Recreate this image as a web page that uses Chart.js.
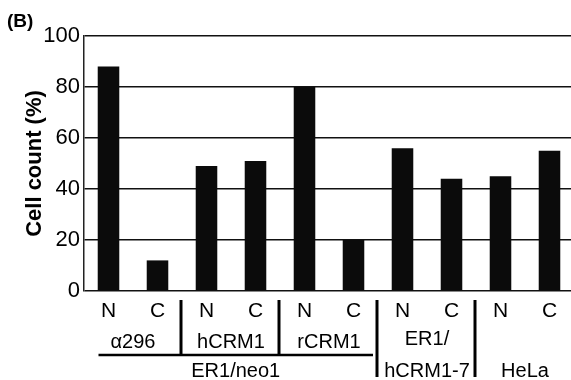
<!DOCTYPE html>
<html>
<head>
<meta charset="utf-8">
<script src="https://cdn.jsdelivr.net/npm/chart.js@4/dist/chart.umd.min.js"></script>
<style>
  html, body { margin: 0; padding: 0; background: #fff; overflow: hidden; }
  #wrap { width: 571px; height: 380px; overflow: hidden; }
</style>
</head>
<body>
<div id="wrap"><canvas id="chart" width="576" height="380"></canvas></div>
<script>
// 数据
const labels = ['N', 'C', 'N', 'C', 'N', 'C', 'N', 'C', 'N', 'C'];
const values = [88, 12, 49, 51, 80, 20, 56, 44, 45, 55];
const groupNames = [['\u03b1296'], ['hCRM1'], ['rCRM1'], ['ER1/', 'hCRM1-7'], ['HeLa']];
const parentName = 'ER1/neo1';
const parentGroups = 3; // 前三组属于 ER1/neo1
const yTicks = [0, 20, 40, 60, 80, 100];

const FONT = 'Arial, "Liberation Sans", sans-serif';

// 分组标签、分隔线
const groupPlugin = {
    id: 'groups',
    afterDraw(chart) {
        const ctx = chart.ctx;
        const x = chart.scales.x;
        ctx.save();
        ctx.fillStyle = '#000';
        ctx.strokeStyle = '#000';
        ctx.font = '20px ' + FONT;
        ctx.textAlign = 'center';
        ctx.textBaseline = 'middle';

        groupNames.forEach((lines, g) => {
            const cx = (x.getPixelForValue(g * 2) + x.getPixelForValue(g * 2 + 1)) / 2;
            if (lines.length === 1) {
                const y = g < parentGroups ? 342 : 371;
                ctx.fillText(lines[0], cx, y);
            } else {
                ctx.fillText(lines[0], cx, 339);
                ctx.fillText(lines[1], cx, 371);
            }
            // 组间分隔线
            if (g < groupNames.length - 1) {
                const sx = (x.getPixelForValue(g * 2 + 1) + x.getPixelForValue(g * 2 + 2)) / 2 - 1;
                ctx.lineWidth = 3;
                ctx.beginPath();
                ctx.moveTo(sx, 300);
                ctx.lineTo(sx, g < parentGroups - 1 ? 354 : 377);
                ctx.stroke();
            }
        });

        // ER1/neo1 下划线
        const lx = x.getPixelForValue(0) - 10;
        const rx = (x.getPixelForValue(parentGroups * 2 - 1) + x.getPixelForValue(parentGroups * 2)) / 2 - 5;
        ctx.lineWidth = 2.5;
        ctx.beginPath();
        ctx.moveTo(lx, 355);
        ctx.lineTo(rx, 355);
        ctx.stroke();
        ctx.fillText(parentName, (lx + rx) / 2, 371);

        // 面板标记
        ctx.textAlign = 'left';
        ctx.font = 'bold 19px ' + FONT;
        ctx.fillText('(B)', 7, 22);
        ctx.restore();
    }
};

new Chart(document.getElementById('chart'), {
    type: 'bar',
    data: {
        labels: labels,
        datasets: [{
            data: values,
            backgroundColor: '#0b0b0b',
            borderWidth: 0,
            barPercentage: 0.44,
            categoryPercentage: 1.0
        }]
    },
    options: {
        responsive: false,
        animation: false,
        layout: { padding: { top: 36, right: 2, left: 0, bottom: 0 } },
        plugins: { legend: { display: false }, tooltip: { enabled: false } },
        scales: {
            x: {
                grid: { display: false, drawTicks: false },
                border: { display: false },
                ticks: { color: '#000', font: { family: FONT, size: 21 }, padding: 8, maxRotation: 0 },
                afterFit(scale) { scale.height = 89; }
            },
            y: {
                min: 0,
                max: 100,
                afterBuildTicks(scale) { scale.ticks = yTicks.map(v => ({ value: v })); },
                grid: { color: '#111', lineWidth: 1.5, drawTicks: false },
                border: { color: '#222', width: 1.5 },
                ticks: { color: '#000', font: { family: FONT, size: 22 }, padding: 4 },
                title: {
                    display: true,
                    text: 'Cell count (%)',
                    color: '#000',
                    font: { family: FONT, size: 22, weight: 'bold' },
                    padding: { top: 22, bottom: 0 }
                },
                afterFit(scale) { scale.width = 84; }
            }
        }
    },
    plugins: [groupPlugin]
});
</script>
</body>
</html>
